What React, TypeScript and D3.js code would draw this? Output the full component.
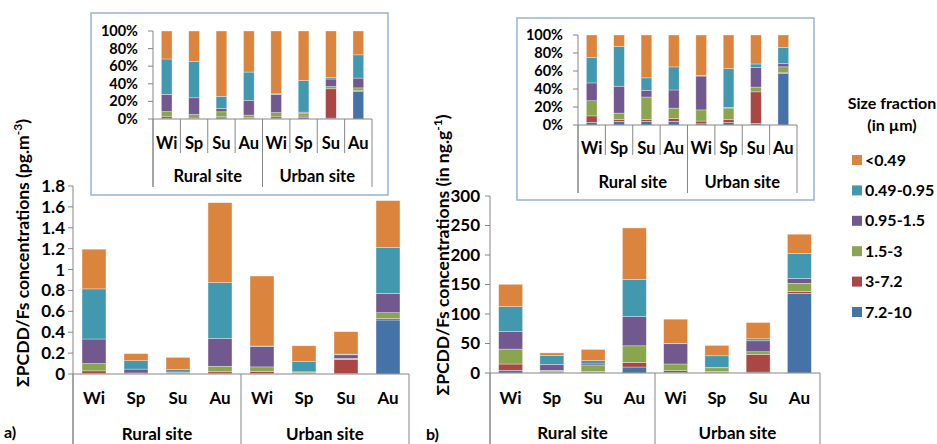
import React from 'react';
import * as d3 from 'd3';

const categories = ['Wi', 'Sp', 'Su', 'Au', 'Wi', 'Sp', 'Su', 'Au'];
const groups = ['Rural site', 'Urban site'];
const seriesNames = ['7.2-10', '3-7.2', '1.5-3', '0.95-1.5', '0.49-0.95', '<0.49'];
const seriesColors = ['#4572A7', '#AA4643', '#89A54E', '#71588F', '#4198AF', '#DB843D'];

// (a) pg.m-3
const airBlue = [0.005, 0.001, 0.002, 0.008, 0.005, 0.004, 0.004, 0.517];
const airRed = [0.025, 0.001, 0.002, 0.014, 0.018, 0.005, 0.135, 0.016];
const airGreen = [0.07, 0.008, 0.009, 0.051, 0.045, 0.009, 0.01, 0.054];
const airPurple = [0.235, 0.037, 0.006, 0.269, 0.195, 0.003, 0.035, 0.185];
const airTeal = [0.48, 0.08, 0.022, 0.533, 0.005, 0.097, 0.006, 0.438];
const airOrange = [0.38, 0.068, 0.118, 0.765, 0.67, 0.152, 0.215, 0.45];

// (b) ng.g-1
const pmBlue = [4.5, 1.4, 1.6, 10.1, 1.2, 1.3, 1.5, 135];
const pmRed = [10.7, 0.7, 0.8, 7.9, 2.8, 1.5, 30, 2.9];
const pmGreen = [25.3, 2.4, 10, 28.1, 11.3, 6, 4.5, 14.1];
const pmPurple = [29.8, 10.2, 3, 49.6, 34.3, 0.4, 18.6, 8.4];
const pmTeal = [42.2, 15, 5.5, 63, 0.5, 20, 3.4, 42.2];
const pmOrange = [37.8, 4.4, 19, 87.2, 41.1, 17.5, 27.5, 32.6];

const yTicksA = [0, 0.2, 0.4, 0.6, 0.8, 1, 1.2, 1.4, 1.6, 1.8];
const yTicksB = [0, 50, 100, 150, 200, 250, 300];
const pctTicks = [0, 0.2, 0.4, 0.6, 0.8, 1];

const FONT = 'Lato, "Open Sans", sans-serif';
const AXIS = '#868686';

function buildRows(series: number[][]) {
  return categories.map((c, i) => {
    const row: any = { idx: i };
    seriesNames.forEach((k, j) => (row[k] = series[j][i]));
    return row;
  });
}

const rowsA = buildRows([airBlue, airRed, airGreen, airPurple, airTeal, airOrange]);
const rowsB = buildRows([pmBlue, pmRed, pmGreen, pmPurple, pmTeal, pmOrange]);

type StackProps = {
  rows: any[];
  left: number;
  right: number;
  bottom: number;
  top: number;
  max: number;
  ticks: number[];
  fmt: (v: number) => string;
  expand: boolean;
  pad: number;
  catY: number;
  grpY: number;
  innerSepEnd: number | null;
  grpSepEnd: number;
  fs: number;
  tickFs: number;
  tickGap: number;
};

function StackChart(p: StackProps) {
  const stack = d3
    .stack<any>()
    .keys(seriesNames)
    .offset(p.expand ? d3.stackOffsetExpand : d3.stackOffsetNone);
  const layers = stack(p.rows);
  const x = d3
    .scaleBand<number>()
    .domain(d3.range(categories.length))
    .range([p.left, p.right])
    .paddingInner(p.pad)
    .paddingOuter(p.pad / 2);
  const y = d3.scaleLinear().domain([0, p.max]).range([p.bottom, p.top]);
  const step = (p.right - p.left) / categories.length;
  const seps = d3.range(categories.length + 1);
  return (
    <g>
      {layers.map((layer, li) => (
        <g key={li} fill={seriesColors[li]}>
          {layer.map((d, i) => (
            <rect
              key={i}
              x={x(i)}
              width={x.bandwidth()}
              y={y(d[1])}
              height={Math.max(0, y(d[0]) - y(d[1]))}
              stroke="rgba(255,255,255,0.55)"
              strokeWidth={0.6}
            />
          ))}
        </g>
      ))}
      <line x1={p.left} x2={p.left} y1={y(p.max)} y2={p.grpSepEnd} stroke={AXIS} />
      {p.ticks.map((t) => (
        <g key={t}>
          <line x1={p.left - 5} x2={p.left} y1={y(t)} y2={y(t)} stroke={AXIS} />
          <text
            x={p.left - p.tickGap}
            y={y(t)}
            dy="0.35em"
            textAnchor="end"
            fontSize={p.tickFs}
            fontWeight="bold"
            fontFamily={FONT}
          >
            {p.fmt(t)}
          </text>
        </g>
      ))}
      <line x1={p.left} x2={p.right} y1={p.bottom} y2={p.bottom} stroke={AXIS} />
      {seps.map((i) => {
        const isGroup = i % 4 === 0;
        if (!isGroup && p.innerSepEnd === null) return null;
        return (
          <line
            key={i}
            x1={p.left + i * step}
            x2={p.left + i * step}
            y1={p.bottom}
            y2={isGroup ? p.grpSepEnd : (p.innerSepEnd as number)}
            stroke={AXIS}
          />
        );
      })}
      {categories.map((c, i) => (
        <text
          key={i}
          x={(x(i) as number) + x.bandwidth() / 2}
          y={p.catY}
          dy="0.35em"
          textAnchor="middle"
          fontSize={p.fs}
          fontWeight="bold"
          fontFamily={FONT}
        >
          {c}
        </text>
      ))}
      {groups.map((g, gi) => (
        <text
          key={g}
          x={p.left + (gi * 4 + 2) * step}
          y={p.grpY}
          dy="0.35em"
          textAnchor="middle"
          fontSize={p.fs}
          fontWeight="bold"
          fontFamily={FONT}
        >
          {g}
        </text>
      ))}
    </g>
  );
}

const fmtNum = (v: number) => d3.format('~g')(v);
const fmtPct = (v: number) => d3.format('.0%')(v);

export default function App() {
  return (
    <svg
      width={937}
      height={444}
      style={{ position: 'absolute', left: 0, top: 0, background: '#fff' }}
    >
      <rect width={937} height={444} fill="#fff" />
      <text
        transform="translate(23,253) rotate(-90)"
        textAnchor="middle"
        dy="0.35em"
        fontSize={17.5}
        fontWeight="bold"
        fontFamily={FONT}
      >
        ΣPCDD/Fs concentrations (pg.m
        <tspan baselineShift="super" fontSize={12}>-3</tspan>)
      </text>
      {/* (a) main */}
      <StackChart
        rows={rowsA}
        left={73}
        right={409}
        bottom={374}
        top={186}
        max={1.8}
        ticks={yTicksA}
        fmt={fmtNum}
        expand={false}
        pad={0.43}
        catY={398}
        grpY={434}
        innerSepEnd={null}
        grpSepEnd={444}
        fs={17}
        tickFs={17}
        tickGap={8}
      />
      <text x={4} y={432} dy="0.35em" fontSize={16} fontWeight="bold" fontFamily={FONT}>
        a)
      </text>

      {/* (a) inset */}
      <rect x={91} y={13} width={297} height={182} fill="#fff" stroke="#95B3D7" strokeWidth={1.5} />
      <StackChart
        rows={rowsA}
        left={153}
        right={372}
        bottom={119}
        top={31}
        max={1}
        ticks={pctTicks}
        fmt={fmtPct}
        expand={true}
        pad={0.61}
        catY={143}
        grpY={176}
        innerSepEnd={153}
        grpSepEnd={187}
        fs={16.5}
        tickFs={14.5}
        tickGap={15}
      />

      <text
        transform="translate(443,255) rotate(-90)"
        textAnchor="middle"
        dy="0.35em"
        fontSize={17.5}
        fontWeight="bold"
        fontFamily={FONT}
      >
        ΣPCDD/Fs concentrations (in ng.g
        <tspan baselineShift="super" fontSize={12}>-1</tspan>)
      </text>
      {/* (b) main */}
      <StackChart
        rows={rowsB}
        left={490}
        right={820}
        bottom={373}
        top={196}
        max={300}
        ticks={yTicksB}
        fmt={fmtNum}
        expand={false}
        pad={0.42}
        catY={398}
        grpY={433}
        innerSepEnd={null}
        grpSepEnd={444}
        fs={17}
        tickFs={17}
        tickGap={10}
      />
      <text x={426} y={434} dy="0.35em" fontSize={16} fontWeight="bold" fontFamily={FONT}>
        b)
      </text>

      {/* (b) inset */}
      <rect x={517} y={18} width={297} height={182} fill="#fff" stroke="#95B3D7" strokeWidth={1.5} />
      <StackChart
        rows={rowsB}
        left={578}
        right={797}
        bottom={125}
        top={35}
        max={1}
        ticks={pctTicks}
        fmt={fmtPct}
        expand={true}
        pad={0.61}
        catY={148}
        grpY={182}
        innerSepEnd={155}
        grpSepEnd={193}
        fs={16.5}
        tickFs={14.5}
        tickGap={15}
      />

      {/* legend */}
      <g fontFamily={FONT} fontWeight="bold">
        <text x={892} y={103} dy="0.35em" textAnchor="middle" fontSize={16}>
          Size fraction
        </text>
        <text x={892} y={125} dy="0.35em" textAnchor="middle" fontSize={16}>
          (in µm)
        </text>
        {seriesNames
          .map((n, i) => ({ n, c: seriesColors[i] }))
          .reverse()
          .map((s, i) => (
            <g key={s.n} transform={`translate(852,${160 + i * 30.4})`}>
              <rect x={0} y={-5} width={10} height={10} fill={s.c} />
              <text x={13} y={0} dy="0.35em" fontSize={16}>
                {s.n}
              </text>
            </g>
          ))}
      </g>
    </svg>
  );
}
